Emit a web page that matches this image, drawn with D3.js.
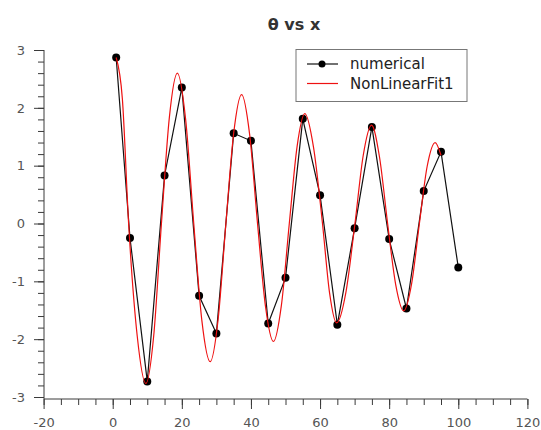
<!DOCTYPE html>
<html>
<head>
<meta charset="utf-8">
<script src="https://cdn.jsdelivr.net/npm/d3@7"></script>
<style>
  html, body { margin: 0; padding: 0; background: #fff; }
  svg { display: block; }
  text { font-family: "DejaVu Sans", sans-serif; }
</style>
</head>
<body>
<svg id="chart" width="541" height="430"></svg>
<script>
// ---- data ----
const titleText = "θ vs x";
const seriesNames = ["numerical", "NonLinearFit1"];

const xNumerical = [1, 5, 10, 15, 20, 25, 30, 35, 40, 45, 50, 55, 60, 65, 70, 75, 80, 85, 90, 95, 100];
const yNumerical = [2.87, -0.25, -2.73, 0.83, 2.35, -1.25, -1.90, 1.56, 1.43, -1.73, -0.94, 1.81, 0.49, -1.75, -0.08, 1.67, -0.27, -1.47, 0.56, 1.24, -0.76];

const xFit = [1, 2.8, 4.6, 7.1, 9.6, 11.85, 14.1, 16.4, 18.7, 21.1, 23.45, 25.8, 28.2, 30.5, 32.75, 35.0, 37.3, 39.6, 41.9, 44.2, 46.5, 48.8, 51.1, 53.35, 55.6, 58.1, 60.7, 62.75, 64.8, 67.45, 70.1, 72.5, 74.9, 77.2, 79.55, 81.9, 84.2, 86.5, 88.75, 91.0, 93.3, 95];
const yFit = [2.87, 2.15, 0, -1.95, -2.77, -1.95, 0, 1.84, 2.60, 1.80, 0, -1.68, -2.39, -1.66, 0, 1.56, 2.23, 1.55, 0, -1.43, -2.04, -1.42, 0, 1.33, 1.90, 1.32, 0, -1.20, -1.72, -1.20, 0, 1.18, 1.70, 1.15, 0, -1.06, -1.51, -1.04, 0, 0.99, 1.40, 1.18];

const xTicks = [-20, 0, 20, 40, 60, 80, 100, 120];
const xMinorTicks = d3.range(-20, 120.001, 5);
const yTicks = [-3, -2, -1, 0, 1, 2, 3];
const yMinorTicks = d3.range(-3, 3.0001, 0.2).map(v => +v.toFixed(1));

// ---- layout ----
const svg = d3.select("#chart");
const x = d3.scaleLinear().domain([-20, 120]).range([43.6, 527.4]);
const y = d3.scaleLinear().domain([-3, 3]).range([397, 50]);
const axisY = 399;   // x-axis line position
const axisX = 44;    // y-axis line position
const axisColor = "#3a3a3a";
const labelColor = "#555";
const fmt = d => String(d);   // plain hyphen-minus like the reference

// title
svg.append("text")
  .attr("x", 294).attr("y", 30)
  .attr("text-anchor", "middle")
  .attr("font-size", 16).attr("font-weight", "bold")
  .attr("fill", "#333")
  .text(titleText);

// x axis (minor + major)
const gx = svg.append("g").attr("transform", `translate(0,${axisY})`);
gx.append("g").call(d3.axisBottom(x).tickValues(xMinorTicks).tickSize(6).tickFormat(""))
  .call(g => g.select(".domain").remove());
gx.append("g").call(d3.axisBottom(x).tickValues(xTicks).tickSize(10).tickPadding(9).tickFormat(fmt))
  .call(g => g.select(".domain").remove());
gx.selectAll("line").attr("stroke", axisColor);
gx.selectAll("text").attr("font-size", 13).attr("fill", labelColor)
  .attr("font-family", "DejaVu Sans, sans-serif");
gx.append("line").attr("x1", axisX).attr("x2", x(120)).attr("y1", 0).attr("y2", 0)
  .attr("stroke", axisColor);

// y axis (minor + major)
const gy = svg.append("g").attr("transform", `translate(${axisX},0)`);
gy.append("g").call(d3.axisLeft(y).tickValues(yMinorTicks).tickSize(6).tickFormat(""))
  .call(g => g.select(".domain").remove());
gy.append("g").call(d3.axisLeft(y).tickValues(yTicks).tickSize(10).tickPadding(9).tickFormat(fmt))
  .call(g => g.select(".domain").remove());
gy.selectAll("line").attr("stroke", axisColor);
gy.selectAll("text").attr("font-size", 13).attr("fill", labelColor)
  .attr("font-family", "DejaVu Sans, sans-serif");
gy.append("line").attr("x1", 0).attr("x2", 0).attr("y1", y(3)).attr("y2", axisY)
  .attr("stroke", axisColor);

// numerical series
const numData = xNumerical.map((v, i) => [v, yNumerical[i]]);
const fitData = xFit.map((v, i) => [v, yFit[i]]);

svg.append("path")
  .datum(numData)
  .attr("fill", "none").attr("stroke", "#111").attr("stroke-width", 1.2)
  .attr("d", d3.line().x(d => x(d[0])).y(d => y(d[1])));

svg.append("g").selectAll("circle")
  .data(numData).join("circle")
  .attr("cx", d => x(d[0])).attr("cy", d => y(d[1])).attr("r", 4)
  .attr("fill", "#000");

// fit curve (drawn on top)
svg.append("path")
  .datum(fitData)
  .attr("fill", "none").attr("stroke", "#ee1111").attr("stroke-width", 1.2)
  .attr("d", d3.line().x(d => x(d[0])).y(d => y(d[1])).curve(d3.curveMonotoneX));

// legend
const lg = svg.append("g");
lg.append("rect").attr("x", 296).attr("y", 49.5).attr("width", 171).attr("height", 52)
  .attr("fill", "#fff").attr("stroke", "#777").attr("stroke-width", 1);
lg.append("line").attr("x1", 307).attr("x2", 338).attr("y1", 64).attr("y2", 64)
  .attr("stroke", "#111").attr("stroke-width", 1.2);
lg.append("circle").attr("cx", 322).attr("cy", 64).attr("r", 3.5).attr("fill", "#000");
lg.append("line").attr("x1", 307).attr("x2", 338).attr("y1", 83.5).attr("y2", 83.5)
  .attr("stroke", "#ee1111").attr("stroke-width", 1.2);
lg.append("text").attr("x", 350).attr("y", 69).attr("font-size", 15).attr("fill", "#222").text(seriesNames[0]);
lg.append("text").attr("x", 350).attr("y", 88.5).attr("font-size", 15).attr("fill", "#222").text(seriesNames[1]);
</script>
</body>
</html>
